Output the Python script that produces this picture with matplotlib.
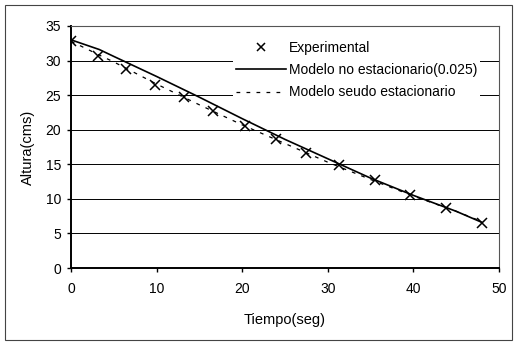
import matplotlib.pyplot as plt
from matplotlib.patches import Rectangle

plt.rcParams['font.family'] = ['Liberation Sans', 'DejaVu Sans']

# experimental points
t_exp = [0, 3.2, 6.4, 9.8, 13.2, 16.6, 20.3, 24.0, 27.5, 31.3, 35.5, 39.6, 43.8, 48.0]
h_exp = [32.8, 30.6, 28.8, 26.5, 24.7, 22.7, 20.5, 18.7, 16.7, 14.9, 12.7, 10.6, 8.7, 6.5]

# model curves
t_model = [0, 3.3, 5, 10, 15, 20, 25, 30, 35, 40, 45, 48]
h_no_est = [33.0, 31.6, 30.6, 27.7, 24.7, 21.6, 18.6, 15.8, 13.0, 10.5, 8.2, 6.6]
h_seudo = [32.8, 30.8, 29.8, 26.6, 23.6, 20.7, 18.0, 15.3, 12.8, 10.4, 8.2, 6.7]

fig = plt.figure(figsize=(5.16, 3.43), dpi=100)
ax = fig.add_axes([71 / 516, 1 - 268 / 343, 428 / 516, 242 / 343])

ax.plot(t_model, h_no_est, color='black', lw=1.2, label='Modelo no estacionario(0.025)', zorder=3)
ax.plot(t_model, h_seudo, color='black', lw=0.9, ls=(0, (3, 5)), label='Modelo seudo estacionario', zorder=3)
ax.plot(t_exp, h_exp, 'x', color='black', ms=7, mew=1.1, label='Experimental', zorder=4)

ax.set_xlim(0, 50)
ax.set_ylim(0, 35)
ax.set_xticks(range(0, 51, 10))
ax.set_yticks(range(0, 36, 5))
ax.yaxis.grid(True, color='black', lw=0.7)
ax.set_axisbelow(True)

for side in ['left', 'bottom']:
    ax.spines[side].set_linewidth(1.4)
for side in ['top', 'right']:
    ax.spines[side].set_color('#555555')
    ax.spines[side].set_linewidth(0.8)

ax.tick_params(axis='both', labelsize=10, length=3, width=1, direction='out', pad=4)
ax.tick_params(axis='x', pad=7)
ax.set_xlabel('Tiempo(seg)', fontsize=10.5, labelpad=12)
ax.set_ylabel('Altura(cms)', fontsize=10.5, labelpad=8)

handles, labels = ax.get_legend_handles_labels()
order = [2, 0, 1]
leg = ax.legend([handles[i] for i in order], [labels[i] for i in order],
                loc='upper left', bbox_to_anchor=(233 / 516, 1 - 38 / 343),
                bbox_transform=fig.transFigure, fontsize=10, markerscale=0.75,
                frameon=True, fancybox=False, edgecolor='none', facecolor='white',
                framealpha=1, handlelength=3.6, handletextpad=0.2,
                labelspacing=0.6, borderpad=0.2, borderaxespad=0)

fig.patches.append(Rectangle((5 / 516, 3 / 343), 507 / 516, 335 / 343, transform=fig.transFigure,
                             fill=False, edgecolor='#444444', lw=0.8))

fig.savefig('out.png', dpi=100)
